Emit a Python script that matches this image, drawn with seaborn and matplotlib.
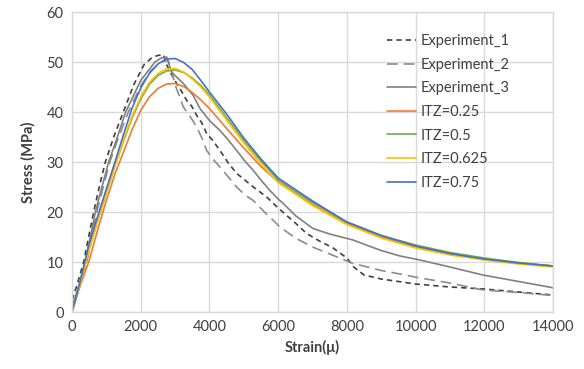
import matplotlib
matplotlib.use("Agg")
import matplotlib.pyplot as plt
import seaborn as sns
import pandas as pd

# ---------------- data ----------------
exp1_strain = [0, 150, 340, 490, 630, 800, 970, 1230, 1494, 1800, 2100, 2350, 2500, 2657,
               2750, 2900, 3046, 3200, 3340, 3480, 3630, 3780, 3920, 4110, 4307, 4550, 4793,
               5030, 5277, 5665, 6000, 6500, 6829, 7200, 7600, 8000, 8200, 8500, 9000, 9500,
               10000, 11000, 12000, 13000, 14000]
exp1_stress = [2.4, 5.5, 10.0, 15.2, 20.0, 25.2, 30.0, 35.3, 40.0, 45.5, 49.5, 51.0, 51.3, 51.5,
               49.5, 47.5, 45.7, 44.0, 42.3, 41.2, 39.3, 37.8, 35.7, 34.2, 32.3, 29.8, 27.7,
               26.4, 25.0, 23.0, 20.8, 17.8, 15.7, 14.2, 12.8, 10.8, 9.0, 7.4, 6.6, 6.1,
               5.6, 5.0, 4.6, 4.0, 3.4]

exp2_strain = [0, 200, 430, 580, 720, 910, 1100, 1370, 1640, 2000, 2300, 2600, 2700, 2800,
               2900, 3000, 3240, 3430, 3630, 3800, 3920, 4110, 4307, 4550, 4793, 5035, 5277,
               5600, 5860, 6054, 6500, 7000, 7500, 8180, 8600, 9000, 9545, 10130, 11000,
               11960, 13000, 14000]
exp2_stress = [0.5, 5.0, 10.0, 15.0, 20.0, 25.0, 30.0, 35.2, 40.0, 45.2, 48.3, 50.0, 50.2, 50.3,
               48.2, 45.5, 41.0, 39.2, 37.0, 34.5, 32.3, 30.5, 29.0, 27.0, 25.0, 23.4, 22.3,
               20.0, 18.3, 17.0, 14.8, 13.0, 11.6, 9.7, 9.0, 8.3, 7.6, 6.8, 5.8,
               4.4, 3.9, 3.3]

exp3_strain = [0, 200, 400, 540, 680, 870, 1068, 1330, 1562, 2000, 2415, 2600, 2755, 2900,
               3000, 3240, 3530, 3725, 4000, 4307, 4550, 4793, 5030, 5277, 5500, 5760, 6000,
               6150, 6500, 7014, 7500, 8180, 8600, 9000, 9545, 10130, 11000, 11960, 13000,
               13960, 14000]
exp3_stress = [1.0, 5.2, 10.5, 15.2, 20.0, 25.0, 30.0, 35.2, 40.0, 46.3, 50.0, 50.8, 51.0, 48.0,
               47.3, 45.7, 43.3, 40.7, 38.3, 36.3, 34.4, 32.3, 30.2, 28.3, 26.4, 24.3, 22.6,
               21.7, 19.3, 16.7, 15.6, 14.4, 13.3, 12.3, 11.2, 10.4, 9.0, 7.4, 6.1,
               4.9, 4.8]

sim_strain = [0, 250, 500, 750, 1000, 1250, 1500, 1750, 2000, 2250, 2500, 2750, 3000, 3250,
              3500, 3750, 4000, 4500, 5000, 5500, 6000, 7000, 8000, 9000, 10000, 11000,
              12000, 13000, 14000]
itz_025 = [0, 5.5, 10.3, 16.5, 22.3, 27.6, 32.0, 36.5, 40.3, 43.0, 44.7, 45.6, 45.7, 45.1,
           43.9, 42.4, 40.7, 36.7, 32.8, 29.1, 26.0, 21.5, 17.7, 15.0, 13.0, 11.6,
           10.6, 9.8, 9.2]
itz_05 = [0, 6.0, 12.5, 18.3, 23.8, 29.2, 34.2, 38.8, 42.6, 45.5, 47.3, 48.2, 48.4, 47.9,
          46.8, 45.3, 43.4, 38.9, 34.3, 30.2, 26.4, 21.9, 18.0, 15.3, 13.4, 11.9,
          10.8, 9.9, 9.2]
itz_0625 = [0, 6.0, 12.5, 18.3, 23.8, 29.2, 34.4, 39.2, 43.0, 45.9, 47.7, 48.6, 48.7, 48.0,
            46.6, 45.0, 43.0, 38.4, 33.8, 29.6, 25.9, 21.3, 17.5, 14.8, 12.8, 11.4,
            10.4, 9.6, 9.0]
itz_075 = [0, 6.5, 13.7, 19.2, 24.6, 30.0, 35.5, 40.8, 44.8, 47.7, 49.6, 50.6, 50.7, 49.9,
           48.5, 46.3, 44.0, 39.6, 34.8, 30.6, 26.8, 22.2, 18.0, 15.3, 13.2, 11.7,
           10.6, 9.8, 9.2]

x_ticks = [0, 2000, 4000, 6000, 8000, 10000, 12000, 14000]
y_ticks = [0, 10, 20, 30, 40, 50, 60]

# ---------------- plot ----------------
sns.set_style("white")
plt.rcParams['font.family'] = ['Lato', 'DejaVu Sans']

fig = plt.figure(figsize=(5.84, 3.69), dpi=100)
ax = fig.add_axes([72/584, 1-312/369, (553-72)/584, 300/369])

series = [
    ("Experiment_1", exp1_strain, exp1_stress, "#404040", (0, (3.2, 2.4))),
    ("Experiment_2", exp2_strain, exp2_stress, "#8c8c8c", (0, (6.5, 3.5))),
    ("Experiment_3", exp3_strain, exp3_stress, "#808080", "-"),
    ("ITZ=0.25", sim_strain, itz_025, "#ED7D31", "-"),
    ("ITZ=0.5", sim_strain, itz_05, "#70AD47", "-"),
    ("ITZ=0.625", sim_strain, itz_0625, "#FFC000", "-"),
    ("ITZ=0.75", sim_strain, itz_075, "#4472C4", "-"),
]
for name, xs, ys, col, ls in series:
    df = pd.DataFrame({"Strain": xs, "Stress": ys})
    sns.lineplot(data=df, x="Strain", y="Stress", ax=ax, color=col, linestyle=ls,
                 linewidth=1.2, label=name, sort=False, estimator=None)

ax.set_xlim(0, 14000)
ax.set_ylim(0, 60)
ax.set_xticks(x_ticks)
ax.set_yticks(y_ticks)
ax.grid(True, color="#D9D9D9", linewidth=1.0)
ax.set_axisbelow(True)
for s in ax.spines.values():
    s.set_color("#D9D9D9")
    s.set_linewidth(1.0)
ax.tick_params(axis="both", length=0, labelsize=10.5, labelcolor="#404040", pad=6)
ax.set_xlabel("Strain(μ)", fontsize=10.5, fontweight="bold", color="#404040", labelpad=4)
ax.set_ylabel("Stress (MPa)", fontsize=10.5, fontweight="bold", color="#404040", labelpad=8)

leg = ax.legend(loc="upper left", bbox_to_anchor=((387-72)/481, 1-(34-12)/300),
                frameon=False, fontsize=10.5, handlelength=2.0, handletextpad=0.3,
                labelspacing=0.66, borderaxespad=0, borderpad=0)
for t in leg.get_texts():
    t.set_color("#404040")

fig.savefig("out.png", dpi=100)
